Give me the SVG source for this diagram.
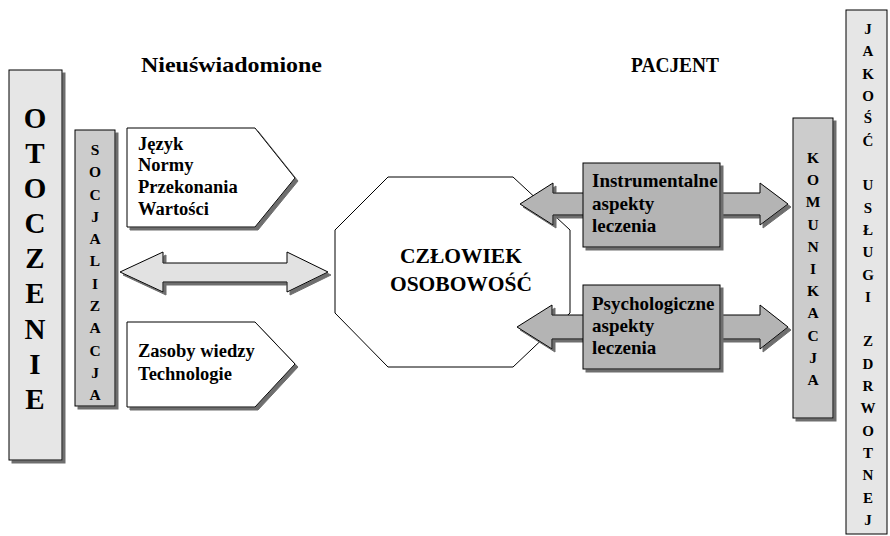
<svg xmlns="http://www.w3.org/2000/svg" width="890" height="536" viewBox="0 0 890 536">
<defs>
<filter id="ds" x="-10%" y="-10%" width="130%" height="130%"><feDropShadow dx="3" dy="3" stdDeviation="0.4" flood-color="#6e6e6e" flood-opacity="1"/></filter>
</defs>
<style>
text{font-weight:bold;fill:#000}
.b{stroke:#000;stroke-width:1}
.lt{fill:#e6e6e6}
.md{fill:#cccccc}
.dk{fill:#b4b4b4}
.wh{fill:#fff}
.sh{filter:url(#ds)}
.v1{font-size:29px;text-anchor:middle}
.v2{font-size:15.5px;text-anchor:middle}
.v3{font-size:15px;text-anchor:middle}
.t18{font-size:18.5px}
.t19{font-size:19px}
</style>
<rect width="890" height="536" fill="#fff"/>
<g font-family="Liberation Serif, serif">
<g id="titles">
<text x="141" y="72" font-size="22" textLength="181" lengthAdjust="spacingAndGlyphs">Nieuświadomione</text>
<text x="631" y="72" font-size="20" textLength="88" lengthAdjust="spacingAndGlyphs">PACJENT</text>
</g>
<g id="otoczenie">
<rect class="b lt sh" x="9" y="70" width="53" height="390"/>
<text class="v1" x="35" y="128">O</text>
<text class="v1" x="35" y="163">T</text>
<text class="v1" x="35" y="198">O</text>
<text class="v1" x="35" y="233">C</text>
<text class="v1" x="35" y="268">Z</text>
<text class="v1" x="35" y="303">E</text>
<text class="v1" x="35" y="339">N</text>
<text class="v1" x="35" y="374">I</text>
<text class="v1" x="35" y="409">E</text>
</g>
<g id="socjalizacja">
<rect class="b md sh" x="75" y="130" width="40" height="276"/>
<text class="v2" x="95" y="155">S</text>
<text class="v2" x="95" y="177">O</text>
<text class="v2" x="95" y="200">C</text>
<text class="v2" x="95" y="222">J</text>
<text class="v2" x="95" y="244">A</text>
<text class="v2" x="95" y="266">L</text>
<text class="v2" x="95" y="289">I</text>
<text class="v2" x="95" y="311">Z</text>
<text class="v2" x="95" y="333">A</text>
<text class="v2" x="95" y="356">C</text>
<text class="v2" x="95" y="378">J</text>
<text class="v2" x="95" y="400">A</text>
</g>
<g id="normy">
<polygon class="b wh sh" points="127,128 255,128 295,178 255,227 127,227"/>
<text class="t18" x="138" y="150">Język</text>
<text class="t18" x="138" y="171">Normy</text>
<text class="t18" x="138" y="193">Przekonania</text>
<text class="t18" x="138" y="215">Wartości</text>
</g>
<g id="zasoby">
<polygon class="b wh sh" points="127,322 255,322 295,364 255,407 127,407"/>
<text class="t18" x="138" y="357">Zasoby wiedzy</text>
<text class="t18" x="138" y="380">Technologie</text>
</g>
<g id="czlowiek">
<polygon class="b wh" points="388,177 513,177 570,230 570,313 513,367 388,367 335,313 335,230"/>
<text x="461" y="263" font-size="21.5" text-anchor="middle">CZŁOWIEK</text>
<text x="461" y="291" font-size="21.5" text-anchor="middle">OSOBOWOŚĆ</text>
</g>
<g id="connectors">
<polygon class="b sh" fill="#e2e2e2" points="120,272 163,252 163,263 287,263 287,252 328,272 287,292 287,282 163,282 163,292"/>
<polygon class="b dk sh" points="520,204 553,183 553,193 760,193 760,183 788,204 760,225 760,215 553,215 553,225"/>
<polygon class="b dk sh" points="517,327 552,305 552,315 760,315 760,305 788,327 760,349 760,339 552,339 552,349"/>
</g>
<g id="instrumentalne">
<rect class="b dk sh" x="583" y="163" width="137" height="84"/>
<text class="t19" x="592" y="187">Instrumentalne</text>
<text class="t19" x="592" y="210">aspekty</text>
<text class="t19" x="592" y="232">leczenia</text>
</g>
<g id="psychologiczne">
<rect class="b dk sh" x="583" y="285" width="137" height="84"/>
<text class="t19" x="592" y="310">Psychologiczne</text>
<text class="t19" x="592" y="332">aspekty</text>
<text class="t19" x="592" y="354">leczenia</text>
</g>
<g id="komunikacja">
<rect class="b md sh" x="793" y="118" width="40" height="300"/>
<text class="v2" x="813" y="163">K</text>
<text class="v2" x="813" y="185">O</text>
<text class="v2" x="813" y="207">M</text>
<text class="v2" x="813" y="230">U</text>
<text class="v2" x="813" y="252">N</text>
<text class="v2" x="813" y="274">I</text>
<text class="v2" x="813" y="296">K</text>
<text class="v2" x="813" y="318">A</text>
<text class="v2" x="813" y="341">C</text>
<text class="v2" x="813" y="363">J</text>
<text class="v2" x="813" y="385">A</text>
</g>
<g id="jakosc">
<rect class="b lt" x="846" y="10" width="41" height="524"/>
<text class="v3" x="868" y="34">J</text>
<text class="v3" x="868" y="56">A</text>
<text class="v3" x="868" y="79">K</text>
<text class="v3" x="868" y="101">O</text>
<text class="v3" x="868" y="123">Ś</text>
<text class="v3" x="868" y="146">Ć</text>
<text class="v3" x="868" y="190">U</text>
<text class="v3" x="868" y="213">S</text>
<text class="v3" x="868" y="235">Ł</text>
<text class="v3" x="868" y="257">U</text>
<text class="v3" x="868" y="280">G</text>
<text class="v3" x="868" y="302">I</text>
<text class="v3" x="868" y="346">Z</text>
<text class="v3" x="868" y="369">D</text>
<text class="v3" x="868" y="391">R</text>
<text class="v3" x="868" y="413">W</text>
<text class="v3" x="868" y="436">O</text>
<text class="v3" x="868" y="458">T</text>
<text class="v3" x="868" y="480">N</text>
<text class="v3" x="868" y="503">E</text>
<text class="v3" x="868" y="525">J</text>
</g>
</g>
</svg>
